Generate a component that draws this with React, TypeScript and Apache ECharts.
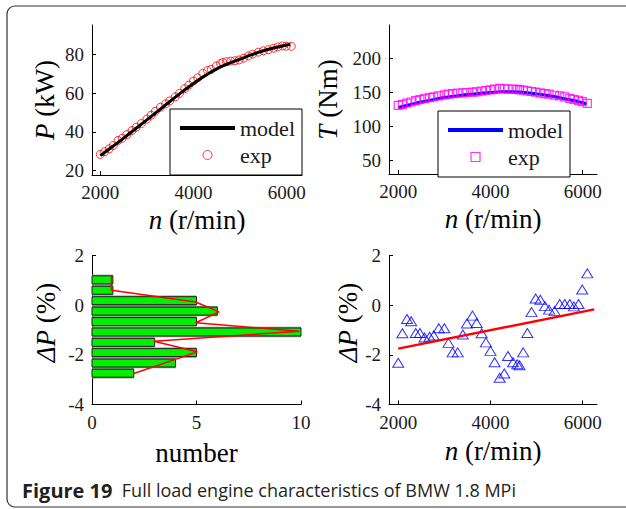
import React, { useEffect, useRef } from 'react';
import * as echarts from 'echarts';

const SERIF = '"Liberation Serif", "Times New Roman", serif';
const SANS = '"Open Sans", "Noto Sans", sans-serif';

// ---- Top-left: power vs speed ----
const rpmModel = [2000, 2250, 2500, 2750, 3000, 3250, 3500, 3750, 4000, 4250, 4500, 4750, 5000, 5250, 5500, 5750, 6000, 6080];
const powerModel = [27.8, 32.2, 36.8, 41.5, 46.2, 51, 55.8, 60.5, 65, 69, 72.5, 75.2, 77.5, 79.8, 81.8, 83.4, 84.8, 85.1];
const rpmExp = [2000, 2090, 2190, 2280, 2380, 2470, 2570, 2680, 2770, 2880, 3000, 3090, 3180, 3290, 3400, 3490, 3610, 3700, 3810, 3900, 4000, 4090, 4200, 4300, 4380, 4490, 4580, 4630, 4710, 4800, 4890, 4980, 5080, 5180, 5270, 5390, 5500, 5610, 5720, 5810, 5910, 5990, 6100];
const powerExp = [28.4, 29.8, 31.3, 33.0, 35.6, 36.7, 38.6, 40.7, 42.4, 44.3, 46.6, 48.6, 50.6, 52.7, 54.5, 56.0, 58.1, 59.9, 62.3, 64.1, 66.2, 67.9, 70.2, 71.6, 72.2, 74.0, 75.2, 75.8, 76.2, 76.5, 76.7, 77.1, 78.0, 79.2, 80.1, 81.1, 81.8, 82.4, 83.1, 83.8, 84.3, 84.2, 84.1];

// ---- Top-right: torque vs speed ----
const torqueModel = [127.5, 131.5, 135.5, 139, 142, 144.5, 146.5, 148, 149.5, 150.5, 150.5, 149.5, 147.5, 145, 142, 138.5, 134.5, 133];
const torqueExp = [130.5, 132, 134, 135.5, 137.5, 139, 140.5, 142, 143, 144.5, 146, 147, 148, 148.5, 149, 149.5, 150, 150.5, 151.5, 152.5, 153.5, 154.5, 155.5, 155, 154.5, 154.5, 154, 153.5, 153, 152, 151, 150, 149, 148, 147, 145.5, 144.5, 143, 141, 139.5, 138, 136, 133.5];

// ---- Bottom-left: histogram of power error ----
const histCenters = [1.02, 0.6, 0.18, -0.24, -0.66, -1.08, -1.5, -1.91, -2.33, -2.74];
const histCounts = [1, 1, 5, 6, 5, 10, 3, 5, 4, 2];
const histFitX = [0.93, 0.93, 4.96, 6.08, 4.96, 9.92, 2.96, 5.04, 2.0];
const histFitY = [1.17, 0.6, 0.13, -0.27, -0.71, -1.05, -1.45, -1.88, -2.75];

// ---- Bottom-right: power error vs speed ----
const deltaP = [-2.32, -1.13, -0.56, -0.65, -1.12, -1.12, -1.3, -1.27, -1.22, -0.93, -0.93, -1.52, -1.9, -1.9, -1.18, -0.74, -0.42, -0.72, -1.13, -1.5, -1.84, -2.3, -2.92, -2.75, -2.05, -2.3, -2.38, -2.42, -1.9, -1.12, -0.28, 0.27, 0.22, -0.04, -0.18, -0.24, 0.05, 0.05, 0.05, -0.05, 0.05, 0.63, 1.28];
const regRpm = [2000, 6250];
const regDeltaP = [-1.75, -0.17];

const rpmTicks = [2000, 4000, 6000];
const powerTicks = [20, 40, 60, 80];
const torqueTicks = [50, 100, 150, 200];
const errTicks = [-4, -2, 0, 2];
const countTicks = [0, 5, 10];

const BIN_W = 0.418;
const BAR_H = 0.32;

function zip(a: number[], b: number[]) {
  return a.map((v, i) => [v, b[i]]);
}

function axis(gridIndex: number, min: number, max: number, ticks: number[], name: string, nameGap: number, namePad?: number[]) {
  return {
    type: 'value',
    gridIndex,
    min,
    max,
    name,
    nameLocation: 'middle',
    nameGap,
    nameTextStyle: {
      fontFamily: SERIF,
      fontSize: 27,
      color: '#000',
      padding: namePad || [0, 0, 0, 0],
      rich: { i: { fontStyle: 'italic', fontFamily: SERIF, fontSize: 27, color: '#000' } },
    },
    axisLine: { show: true, onZero: false, lineStyle: { color: '#000', width: 1 } },
    axisTick: { show: true, inside: true, length: 4, customValues: ticks, lineStyle: { color: '#000', width: 1 } },
    axisLabel: {
      customValues: ticks,
      formatter: (v: number) => String(v),
      fontFamily: SERIF,
      fontSize: 19,
      color: '#1a1a1a',
      margin: 8,
    },
    splitLine: { show: false },
  };
}

const legendText = { fontFamily: SERIF, fontSize: 22, color: '#1a1a1a', lineHeight: 22 };
const lineIcon = 'path://M0 0H55V4H0Z';
const squareIcon = 'path://M0 0H10V10H0Z';

const option = {
  animation: false,
  backgroundColor: '#fff',
  grid: [
    { left: 92, top: 25, width: 210, height: 150 },
    { left: 389, top: 25, width: 208, height: 149 },
    { left: 92, top: 255.5, width: 209, height: 149 },
    { left: 389, top: 255.5, width: 208, height: 149 },
  ],
  xAxis: [
    axis(0, 1821, 6330, rpmTicks, '{i|n} (r/min)', 31),
    axis(1, 1800, 6310, rpmTicks, '{i|n} (r/min)', 31),
    axis(2, 0, 10, countTicks, 'number', 35),
    axis(3, 1800, 6310, rpmTicks, '{i|n} (r/min)', 33),
  ],
  yAxis: [
    axis(0, 17.8, 95.1, powerTicks, '{i|P} (kW)', 34),
    axis(1, 29.4, 249, torqueTicks, '{i|T} (Nm)', 48),
    axis(2, -4, 2, errTicks, '{i|ΔP} (%)', 33, [0, 0, 0, 15]),
    axis(3, -4, 2, errTicks, '{i|ΔP} (%)', 22, [0, 0, 0, 15]),
  ],
  legend: [
    {
      right: 324,
      top: 109,
      orient: 'vertical',
      selectedMode: false,
      backgroundColor: '#fff',
      borderColor: '#000',
      borderWidth: 1,
      borderRadius: 0,
      padding: [8, 7, 9, 10],
      itemWidth: 55,
      itemHeight: 9,
      itemGap: 5,
      symbolKeepAspect: true,
      textStyle: legendText,
      data: [
        { name: 'model', icon: lineIcon, itemStyle: { color: '#000', borderWidth: 0 } },
        { name: 'exp', icon: 'circle', itemStyle: { color: 'rgba(0,0,0,0)', borderColor: '#ff0000', borderWidth: 1 } },
      ],
    },
    {
      right: 56,
      top: 111,
      orient: 'vertical',
      selectedMode: false,
      backgroundColor: '#fff',
      borderColor: '#000',
      borderWidth: 1,
      borderRadius: 0,
      padding: [8, 7, 9, 10],
      itemWidth: 55,
      itemHeight: 9,
      itemGap: 5,
      symbolKeepAspect: true,
      textStyle: legendText,
      data: [
        { name: 'model', icon: lineIcon, itemStyle: { color: '#0000ff', borderWidth: 0 } },
        { name: 'exp', icon: squareIcon, itemStyle: { color: 'rgba(0,0,0,0)', borderColor: '#ff00ff', borderWidth: 1.2 } },
      ],
    },
  ],
  series: [
    {
      name: 'exp',
      type: 'scatter',
      xAxisIndex: 0,
      yAxisIndex: 0,
      data: zip(rpmExp, powerExp),
      symbol: 'circle',
      symbolSize: 8,
      itemStyle: { color: 'rgba(0,0,0,0)', borderColor: '#ff0000', borderWidth: 1 },
      z: 2,
    },
    {
      name: 'model',
      type: 'line',
      xAxisIndex: 0,
      yAxisIndex: 0,
      data: zip(rpmModel, powerModel),
      symbol: 'none',
      smooth: true,
      lineStyle: { color: '#000', width: 3 },
      itemStyle: { color: '#000' },
      z: 3,
    },
    {
      name: 'model',
      type: 'line',
      xAxisIndex: 1,
      yAxisIndex: 1,
      data: zip(rpmModel, torqueModel),
      symbol: 'none',
      smooth: true,
      lineStyle: { color: '#0000ff', width: 3 },
      itemStyle: { color: '#0000ff' },
      z: 2,
    },
    {
      name: 'exp',
      type: 'scatter',
      xAxisIndex: 1,
      yAxisIndex: 1,
      data: zip(rpmExp, torqueExp),
      symbol: 'rect',
      symbolSize: 8,
      itemStyle: { color: 'rgba(0,0,0,0)', borderColor: '#ff00ff', borderWidth: 1.2 },
      z: 3,
    },
    {
      name: 'histogram',
      type: 'custom',
      coordinateSystem: 'cartesian2d',
      xAxisIndex: 2,
      yAxisIndex: 2,
      encode: { x: 0, y: 1 },
      data: zip(histCounts, histCenters),
      renderItem: (params: any, api: any) => {
        const v = api.value(0);
        const c = api.value(1);
        const g0 = api.coord([0, c + BIN_W / 2]);
        const g1 = api.coord([v, c - BIN_W / 2]);
        const b0 = api.coord([0, c + BAR_H / 2]);
        const b1 = api.coord([v, c - BAR_H / 2]);
        return {
          type: 'group',
          children: [
            {
              type: 'rect',
              shape: { x: g0[0], y: g0[1], width: g1[0] - g0[0], height: g1[1] - g0[1] },
              style: { fill: '#8f8f8f' },
            },
            {
              type: 'rect',
              shape: { x: b0[0], y: b0[1], width: b1[0] - b0[0], height: b1[1] - b0[1] },
              style: { fill: '#00f000', stroke: '#222', lineWidth: 1 },
            },
          ],
        };
      },
      z: 2,
    },
    {
      name: 'fit',
      type: 'line',
      xAxisIndex: 2,
      yAxisIndex: 2,
      data: zip(histFitX, histFitY),
      symbol: 'none',
      lineStyle: { color: '#ff0000', width: 1.5 },
      z: 3,
    },
    {
      name: 'ΔP',
      type: 'scatter',
      xAxisIndex: 3,
      yAxisIndex: 3,
      data: zip(rpmExp, deltaP),
      symbol: 'triangle',
      symbolSize: [11, 9],
      itemStyle: { color: 'rgba(0,0,0,0)', borderColor: '#0000ff', borderWidth: 1 },
      z: 2,
    },
    {
      name: 'trend',
      type: 'line',
      xAxisIndex: 3,
      yAxisIndex: 3,
      data: zip(regRpm, regDeltaP),
      symbol: 'none',
      lineStyle: { color: '#ff0000', width: 2.5 },
      z: 3,
    },
  ],
  graphic: [
    {
      type: 'rect',
      shape: { x: 7, y: 6, width: 630, height: 501, r: 8 },
      style: { fill: 'none', stroke: '#333', lineWidth: 1.2 },
      z: -1,
    },
    {
      type: 'text',
      x: 22,
      y: 490,
      style: {
        text: '{b|Figure 19}  {r|Full load engine characteristics of BMW 1.8 MPi}',
        fontFamily: SANS,
        fontSize: 18,
        fill: '#231f20',
        verticalAlign: 'middle',
        rich: {
          b: { fontFamily: SANS, fontSize: 20, fontWeight: 'bold', fill: '#231f20' },
          r: { fontFamily: SANS, fontSize: 18, fill: '#231f20' },
        },
      },
    },
  ],
};

export default function App() {
  const ref = useRef<HTMLDivElement>(null);
  useEffect(() => {
    const chart = echarts.init(ref.current as HTMLDivElement, null, { renderer: 'svg' });
    chart.setOption(option as any);
    return () => chart.dispose();
  }, []);
  return (
    <div
      ref={ref}
      style={{ position: 'absolute', left: 0, top: 0, width: 626, height: 509, background: '#fff' }}
    />
  );
}
